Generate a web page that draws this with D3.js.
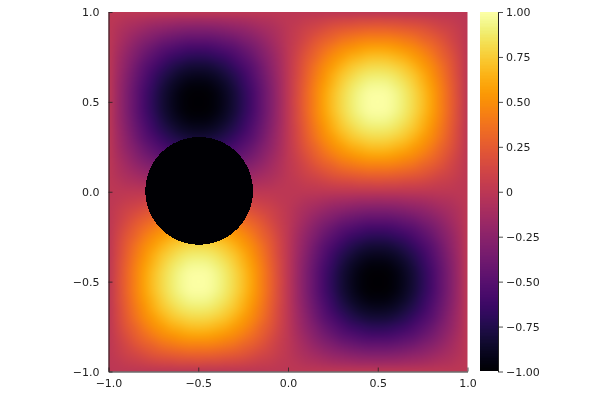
<!DOCTYPE html>
<html>
<head>
<meta charset="utf-8">
<script src="https://d3js.org/d3.v7.min.js"></script>
<style>
  html, body { margin: 0; padding: 0; background: #fff; }
  #chart { position: relative; width: 600px; height: 400px; overflow: hidden; }
  #chart canvas, #chart svg { position: absolute; left: 0; top: 0; }
  text { font-family: "DejaVu Sans", sans-serif; font-size: 11px; fill: #222; }
</style>
</head>
<body>
<div id="chart"></div>
<script>
// grid positions, x left to right, y top to bottom
const xValues = [-1,-.95,-.9,-.85,-.8,-.75,-.7,-.65,-.6,-.55,-.5,-.45,-.4,-.35,-.3,-.25,-.2,-.15,-.1,-.05,0,.05,.1,.15,.2,.25,.3,.35,.4,.45,.5,.55,.6,.65,.7,.75,.8,.85,.9,.95,1];
const yValues = [1,.95,.9,.85,.8,.75,.7,.65,.6,.55,.5,.45,.4,.35,.3,.25,.2,.15,.1,.05,0,-.05,-.1,-.15,-.2,-.25,-.3,-.35,-.4,-.45,-.5,-.55,-.6,-.65,-.7,-.75,-.8,-.85,-.9,-.95,-1];

// values, one row per yValues entry
const zValues = [
  [0,0,0,0,0,0,0,0,0,0,0,0,0,0,0,0,0,0,0,0,0,0,0,0,0,0,0,0,0,0,0,0,0,0,0,0,0,0,0,0,0],
  [0,-.02,-.05,-.07,-.09,-.11,-.13,-.14,-.15,-.15,-.16,-.15,-.15,-.14,-.13,-.11,-.09,-.07,-.05,-.02,0,.02,.05,.07,.09,.11,.13,.14,.15,.15,.16,.15,.15,.14,.13,.11,.09,.07,.05,.02,0],
  [0,-.05,-.10,-.14,-.18,-.22,-.25,-.28,-.29,-.31,-.31,-.31,-.29,-.28,-.25,-.22,-.18,-.14,-.10,-.05,0,.05,.10,.14,.18,.22,.25,.28,.29,.31,.31,.31,.29,.28,.25,.22,.18,.14,.10,.05,0],
  [0,-.07,-.14,-.21,-.27,-.32,-.37,-.40,-.43,-.45,-.45,-.45,-.43,-.40,-.37,-.32,-.27,-.21,-.14,-.07,0,.07,.14,.21,.27,.32,.37,.40,.43,.45,.45,.45,.43,.40,.37,.32,.27,.21,.14,.07,0],
  [0,-.09,-.18,-.27,-.35,-.42,-.48,-.52,-.56,-.58,-.59,-.58,-.56,-.52,-.48,-.42,-.35,-.27,-.18,-.09,0,.09,.18,.27,.35,.42,.48,.52,.56,.58,.59,.58,.56,.52,.48,.42,.35,.27,.18,.09,0],
  [0,-.11,-.22,-.32,-.42,-.50,-.57,-.63,-.67,-.70,-.71,-.70,-.67,-.63,-.57,-.50,-.42,-.32,-.22,-.11,0,.11,.22,.32,.42,.50,.57,.63,.67,.70,.71,.70,.67,.63,.57,.50,.42,.32,.22,.11,0],
  [0,-.13,-.25,-.37,-.48,-.57,-.65,-.72,-.77,-.80,-.81,-.80,-.77,-.72,-.65,-.57,-.48,-.37,-.25,-.13,0,.13,.25,.37,.48,.57,.65,.72,.77,.80,.81,.80,.77,.72,.65,.57,.48,.37,.25,.13,0],
  [0,-.14,-.28,-.40,-.52,-.63,-.72,-.79,-.85,-.88,-.89,-.88,-.85,-.79,-.72,-.63,-.52,-.40,-.28,-.14,0,.14,.28,.40,.52,.63,.72,.79,.85,.88,.89,.88,.85,.79,.72,.63,.52,.40,.28,.14,0],
  [0,-.15,-.29,-.43,-.56,-.67,-.77,-.85,-.90,-.94,-.95,-.94,-.90,-.85,-.77,-.67,-.56,-.43,-.29,-.15,0,.15,.29,.43,.56,.67,.77,.85,.90,.94,.95,.94,.90,.85,.77,.67,.56,.43,.29,.15,0],
  [0,-.15,-.31,-.45,-.58,-.70,-.80,-.88,-.94,-.98,-.99,-.98,-.94,-.88,-.80,-.70,-.58,-.45,-.31,-.15,0,.15,.31,.45,.58,.70,.80,.88,.94,.98,.99,.98,.94,.88,.80,.70,.58,.45,.31,.15,0],
  [0,-.16,-.31,-.45,-.59,-.71,-.81,-.89,-.95,-.99,-1,-.99,-.95,-.89,-.81,-.71,-.59,-.45,-.31,-.16,0,.16,.31,.45,.59,.71,.81,.89,.95,.99,1,.99,.95,.89,.81,.71,.59,.45,.31,.16,0],
  [0,-.15,-.31,-.45,-.58,-.70,-.80,-.88,-.94,-.98,-.99,-.98,-.94,-.88,-.80,-.70,-.58,-.45,-.31,-.15,0,.15,.31,.45,.58,.70,.80,.88,.94,.98,.99,.98,.94,.88,.80,.70,.58,.45,.31,.15,0],
  [0,-.15,-.29,-.43,-.56,-.67,-.77,-.85,-.90,-.94,-.95,-.94,-.90,-.85,-.77,-.67,-.56,-.43,-.29,-.15,0,.15,.29,.43,.56,.67,.77,.85,.90,.94,.95,.94,.90,.85,.77,.67,.56,.43,.29,.15,0],
  [0,-.14,-.28,-.40,-.52,-.63,-.72,-.79,-.85,-.88,-.89,-.88,-.85,-.79,-.72,-.63,-.52,-.40,-.28,-.14,0,.14,.28,.40,.52,.63,.72,.79,.85,.88,.89,.88,.85,.79,.72,.63,.52,.40,.28,.14,0],
  [0,-.13,-.25,-.37,-.48,-.57,-.65,-.72,-.77,-.80,-.81,-.80,-.77,-.72,-.65,-.57,-.48,-.37,-.25,-.13,0,.13,.25,.37,.48,.57,.65,.72,.77,.80,.81,.80,.77,.72,.65,.57,.48,.37,.25,.13,0],
  [0,-.11,-.22,-.32,-.42,-.50,-.57,-.63,-.67,-.70,-.71,-.70,-.67,-.63,-.57,-.50,-.42,-.32,-.22,-.11,0,.11,.22,.32,.42,.50,.57,.63,.67,.70,.71,.70,.67,.63,.57,.50,.42,.32,.22,.11,0],
  [0,-.09,-.18,-.27,-.35,-.42,-.48,-.52,-.56,-.58,-.59,-.58,-.56,-.52,-.48,-.42,-.35,-.27,-.18,-.09,0,.09,.18,.27,.35,.42,.48,.52,.56,.58,.59,.58,.56,.52,.48,.42,.35,.27,.18,.09,0],
  [0,-.07,-.14,-.21,-.27,-.32,-.37,-.40,-.43,-.45,-.45,-.45,-.43,-.40,-.37,-.32,-.27,-.21,-.14,-.07,0,.07,.14,.21,.27,.32,.37,.40,.43,.45,.45,.45,.43,.40,.37,.32,.27,.21,.14,.07,0],
  [0,-.05,-.10,-.14,-.18,-.22,-.25,-.28,-.29,-.31,-.31,-.31,-.29,-.28,-.25,-.22,-.18,-.14,-.10,-.05,0,.05,.10,.14,.18,.22,.25,.28,.29,.31,.31,.31,.29,.28,.25,.22,.18,.14,.10,.05,0],
  [0,-.02,-.05,-.07,-.09,-.11,-.13,-.14,-.15,-.15,-.16,-.15,-.15,-.14,-.13,-.11,-.09,-.07,-.05,-.02,0,.02,.05,.07,.09,.11,.13,.14,.15,.15,.16,.15,.15,.14,.13,.11,.09,.07,.05,.02,0],
  [0,0,0,0,0,0,0,0,0,0,0,0,0,0,0,0,0,0,0,0,0,0,0,0,0,0,0,0,0,0,0,0,0,0,0,0,0,0,0,0,0],
  [0,.02,.05,.07,.09,.11,.13,.14,.15,.15,.16,.15,.15,.14,.13,.11,.09,.07,.05,.02,0,-.02,-.05,-.07,-.09,-.11,-.13,-.14,-.15,-.15,-.16,-.15,-.15,-.14,-.13,-.11,-.09,-.07,-.05,-.02,0],
  [0,.05,.10,.14,.18,.22,.25,.28,.29,.31,.31,.31,.29,.28,.25,.22,.18,.14,.10,.05,0,-.05,-.10,-.14,-.18,-.22,-.25,-.28,-.29,-.31,-.31,-.31,-.29,-.28,-.25,-.22,-.18,-.14,-.10,-.05,0],
  [0,.07,.14,.21,.27,.32,.37,.40,.43,.45,.45,.45,.43,.40,.37,.32,.27,.21,.14,.07,0,-.07,-.14,-.21,-.27,-.32,-.37,-.40,-.43,-.45,-.45,-.45,-.43,-.40,-.37,-.32,-.27,-.21,-.14,-.07,0],
  [0,.09,.18,.27,.35,.42,.48,.52,.56,.58,.59,.58,.56,.52,.48,.42,.35,.27,.18,.09,0,-.09,-.18,-.27,-.35,-.42,-.48,-.52,-.56,-.58,-.59,-.58,-.56,-.52,-.48,-.42,-.35,-.27,-.18,-.09,0],
  [0,.11,.22,.32,.42,.50,.57,.63,.67,.70,.71,.70,.67,.63,.57,.50,.42,.32,.22,.11,0,-.11,-.22,-.32,-.42,-.50,-.57,-.63,-.67,-.70,-.71,-.70,-.67,-.63,-.57,-.50,-.42,-.32,-.22,-.11,0],
  [0,.13,.25,.37,.48,.57,.65,.72,.77,.80,.81,.80,.77,.72,.65,.57,.48,.37,.25,.13,0,-.13,-.25,-.37,-.48,-.57,-.65,-.72,-.77,-.80,-.81,-.80,-.77,-.72,-.65,-.57,-.48,-.37,-.25,-.13,0],
  [0,.14,.28,.40,.52,.63,.72,.79,.85,.88,.89,.88,.85,.79,.72,.63,.52,.40,.28,.14,0,-.14,-.28,-.40,-.52,-.63,-.72,-.79,-.85,-.88,-.89,-.88,-.85,-.79,-.72,-.63,-.52,-.40,-.28,-.14,0],
  [0,.15,.29,.43,.56,.67,.77,.85,.90,.94,.95,.94,.90,.85,.77,.67,.56,.43,.29,.15,0,-.15,-.29,-.43,-.56,-.67,-.77,-.85,-.90,-.94,-.95,-.94,-.90,-.85,-.77,-.67,-.56,-.43,-.29,-.15,0],
  [0,.15,.31,.45,.58,.70,.80,.88,.94,.98,.99,.98,.94,.88,.80,.70,.58,.45,.31,.15,0,-.15,-.31,-.45,-.58,-.70,-.80,-.88,-.94,-.98,-.99,-.98,-.94,-.88,-.80,-.70,-.58,-.45,-.31,-.15,0],
  [0,.16,.31,.45,.59,.71,.81,.89,.95,.99,1,.99,.95,.89,.81,.71,.59,.45,.31,.16,0,-.16,-.31,-.45,-.59,-.71,-.81,-.89,-.95,-.99,-1,-.99,-.95,-.89,-.81,-.71,-.59,-.45,-.31,-.16,0],
  [0,.15,.31,.45,.58,.70,.80,.88,.94,.98,.99,.98,.94,.88,.80,.70,.58,.45,.31,.15,0,-.15,-.31,-.45,-.58,-.70,-.80,-.88,-.94,-.98,-.99,-.98,-.94,-.88,-.80,-.70,-.58,-.45,-.31,-.15,0],
  [0,.15,.29,.43,.56,.67,.77,.85,.90,.94,.95,.94,.90,.85,.77,.67,.56,.43,.29,.15,0,-.15,-.29,-.43,-.56,-.67,-.77,-.85,-.90,-.94,-.95,-.94,-.90,-.85,-.77,-.67,-.56,-.43,-.29,-.15,0],
  [0,.14,.28,.40,.52,.63,.72,.79,.85,.88,.89,.88,.85,.79,.72,.63,.52,.40,.28,.14,0,-.14,-.28,-.40,-.52,-.63,-.72,-.79,-.85,-.88,-.89,-.88,-.85,-.79,-.72,-.63,-.52,-.40,-.28,-.14,0],
  [0,.13,.25,.37,.48,.57,.65,.72,.77,.80,.81,.80,.77,.72,.65,.57,.48,.37,.25,.13,0,-.13,-.25,-.37,-.48,-.57,-.65,-.72,-.77,-.80,-.81,-.80,-.77,-.72,-.65,-.57,-.48,-.37,-.25,-.13,0],
  [0,.11,.22,.32,.42,.50,.57,.63,.67,.70,.71,.70,.67,.63,.57,.50,.42,.32,.22,.11,0,-.11,-.22,-.32,-.42,-.50,-.57,-.63,-.67,-.70,-.71,-.70,-.67,-.63,-.57,-.50,-.42,-.32,-.22,-.11,0],
  [0,.09,.18,.27,.35,.42,.48,.52,.56,.58,.59,.58,.56,.52,.48,.42,.35,.27,.18,.09,0,-.09,-.18,-.27,-.35,-.42,-.48,-.52,-.56,-.58,-.59,-.58,-.56,-.52,-.48,-.42,-.35,-.27,-.18,-.09,0],
  [0,.07,.14,.21,.27,.32,.37,.40,.43,.45,.45,.45,.43,.40,.37,.32,.27,.21,.14,.07,0,-.07,-.14,-.21,-.27,-.32,-.37,-.40,-.43,-.45,-.45,-.45,-.43,-.40,-.37,-.32,-.27,-.21,-.14,-.07,0],
  [0,.05,.10,.14,.18,.22,.25,.28,.29,.31,.31,.31,.29,.28,.25,.22,.18,.14,.10,.05,0,-.05,-.10,-.14,-.18,-.22,-.25,-.28,-.29,-.31,-.31,-.31,-.29,-.28,-.25,-.22,-.18,-.14,-.10,-.05,0],
  [0,.02,.05,.07,.09,.11,.13,.14,.15,.15,.16,.15,.15,.14,.13,.11,.09,.07,.05,.02,0,-.02,-.05,-.07,-.09,-.11,-.13,-.14,-.15,-.15,-.16,-.15,-.15,-.14,-.13,-.11,-.09,-.07,-.05,-.02,0],
  [0,0,0,0,0,0,0,0,0,0,0,0,0,0,0,0,0,0,0,0,0,0,0,0,0,0,0,0,0,0,0,0,0,0,0,0,0,0,0,0,0]
];

// the black disc (x, y, radius in data units), as measured on the picture
const holeCenter = [-0.495, 0.005];
const holeRadius = 0.3;

const axisTicks = [-1, -0.5, 0, 0.5, 1];
const axisLabels = ["\u22121.0", "\u22120.5", "0.0", "0.5", "1.0"];
const barTicks = [-1, -0.75, -0.5, -0.25, 0, 0.25, 0.5, 0.75, 1];
const barLabels = ["\u22121.00", "\u22120.75", "\u22120.50", "\u22120.25", "0", "0.25", "0.50", "0.75", "1.00"];

const fullwidth = 600;
const fullheight = 400;
const plotLeft = 108.5, plotRight = 467.5, plotTop = 12, plotBottom = 371.5;
const barLeft = 480, barRight = 498;

const xScale = d3.scaleLinear().domain([-1, 1]).range([plotLeft, plotRight]);
const yScale = d3.scaleLinear().domain([-1, 1]).range([plotBottom, plotTop]);
const color = d3.scaleSequential(d3.interpolateInferno).domain([-1, 1]);

const chart = d3.select("#chart");

//Heatmap goes on a canvas, one image pixel per grid value, browser smooths it when scaled
const canvas = chart.append("canvas").attr("width", fullwidth).attr("height", fullheight);
const ctx = canvas.node().getContext("2d");

const cells = document.createElement("canvas");
cells.width = xValues.length;
cells.height = yValues.length;
const cellCtx = cells.getContext("2d");
zValues.forEach((row, j) => row.forEach((z, i) => {
  cellCtx.fillStyle = color(z);
  cellCtx.fillRect(i, j, 1, 1);
}));

const cellW = Math.abs(xScale(xValues[1]) - xScale(xValues[0]));
const cellH = Math.abs(yScale(yValues[1]) - yScale(yValues[0]));
ctx.save();
ctx.beginPath();
ctx.rect(plotLeft, plotTop, plotRight - plotLeft, plotBottom - plotTop);
ctx.clip();
ctx.imageSmoothingEnabled = true;
ctx.imageSmoothingQuality = "high";
ctx.drawImage(cells, xScale(xValues[0]) - cellW / 2, yScale(yValues[0]) - cellH / 2,
  cellW * xValues.length, cellH * yValues.length);
ctx.restore();

const svg = chart.append("svg").attr("width", fullwidth).attr("height", fullheight);

//Black disc, jagged edge like the original raster
svg.append("circle")
  .attr("cx", xScale(holeCenter[0]))
  .attr("cy", yScale(holeCenter[1]))
  .attr("r", xScale(holeRadius) - xScale(0))
  .attr("fill", color(-1))
  .attr("shape-rendering", "crispEdges");

//Colorbar strip
const barScale = d3.scaleLinear().domain([-1, 1]).range([plotBottom, plotTop]);
const barSteps = d3.range(-1, 1, 2 / 256);
svg.append("g")
  .attr("shape-rendering", "crispEdges")
  .selectAll("rect")
  .data(barSteps)
  .enter().append("rect")
    .attr("x", barLeft)
    .attr("width", barRight - barLeft)
    .attr("y", d => barScale(d + 2 / 256))
    .attr("height", d => Math.min(barScale(d) - barScale(d + 2 / 256) + 1, 371 - barScale(d + 2 / 256)))
    .attr("fill", d => color(d));

//Axes, Plots.jl style: ticks point inward and no end caps
const labelOf = (ticks, labels) => d => labels[ticks.indexOf(d)];

const xAxis = svg.append("g")
  .attr("transform", "translate(0," + plotBottom + ")")
  .call(d3.axisBottom(xScale)
    .tickValues(axisTicks)
    .tickFormat(labelOf(axisTicks, axisLabels))
    .tickSizeOuter(0)
    .tickSizeInner(-4)
    .tickPadding(8));

const yAxis = svg.append("g")
  .attr("transform", "translate(" + plotLeft + ",0)")
  .call(d3.axisLeft(yScale)
    .tickValues(axisTicks)
    .tickFormat(labelOf(axisTicks, axisLabels))
    .tickSizeOuter(0)
    .tickSizeInner(-4)
    .tickPadding(9));

const barAxis = svg.append("g")
  .attr("transform", "translate(" + barRight + ",0)")
  .call(d3.axisRight(barScale)
    .tickValues(barTicks)
    .tickFormat(labelOf(barTicks, barLabels))
    .tickSizeOuter(0)
    .tickSizeInner(5)
    .tickPadding(3));

svg.selectAll(".domain").attr("stroke", "#222").attr("stroke-width", 1);
svg.selectAll(".tick line").attr("stroke", "#222").attr("stroke-width", 0.8);
</script>
</body>
</html>
